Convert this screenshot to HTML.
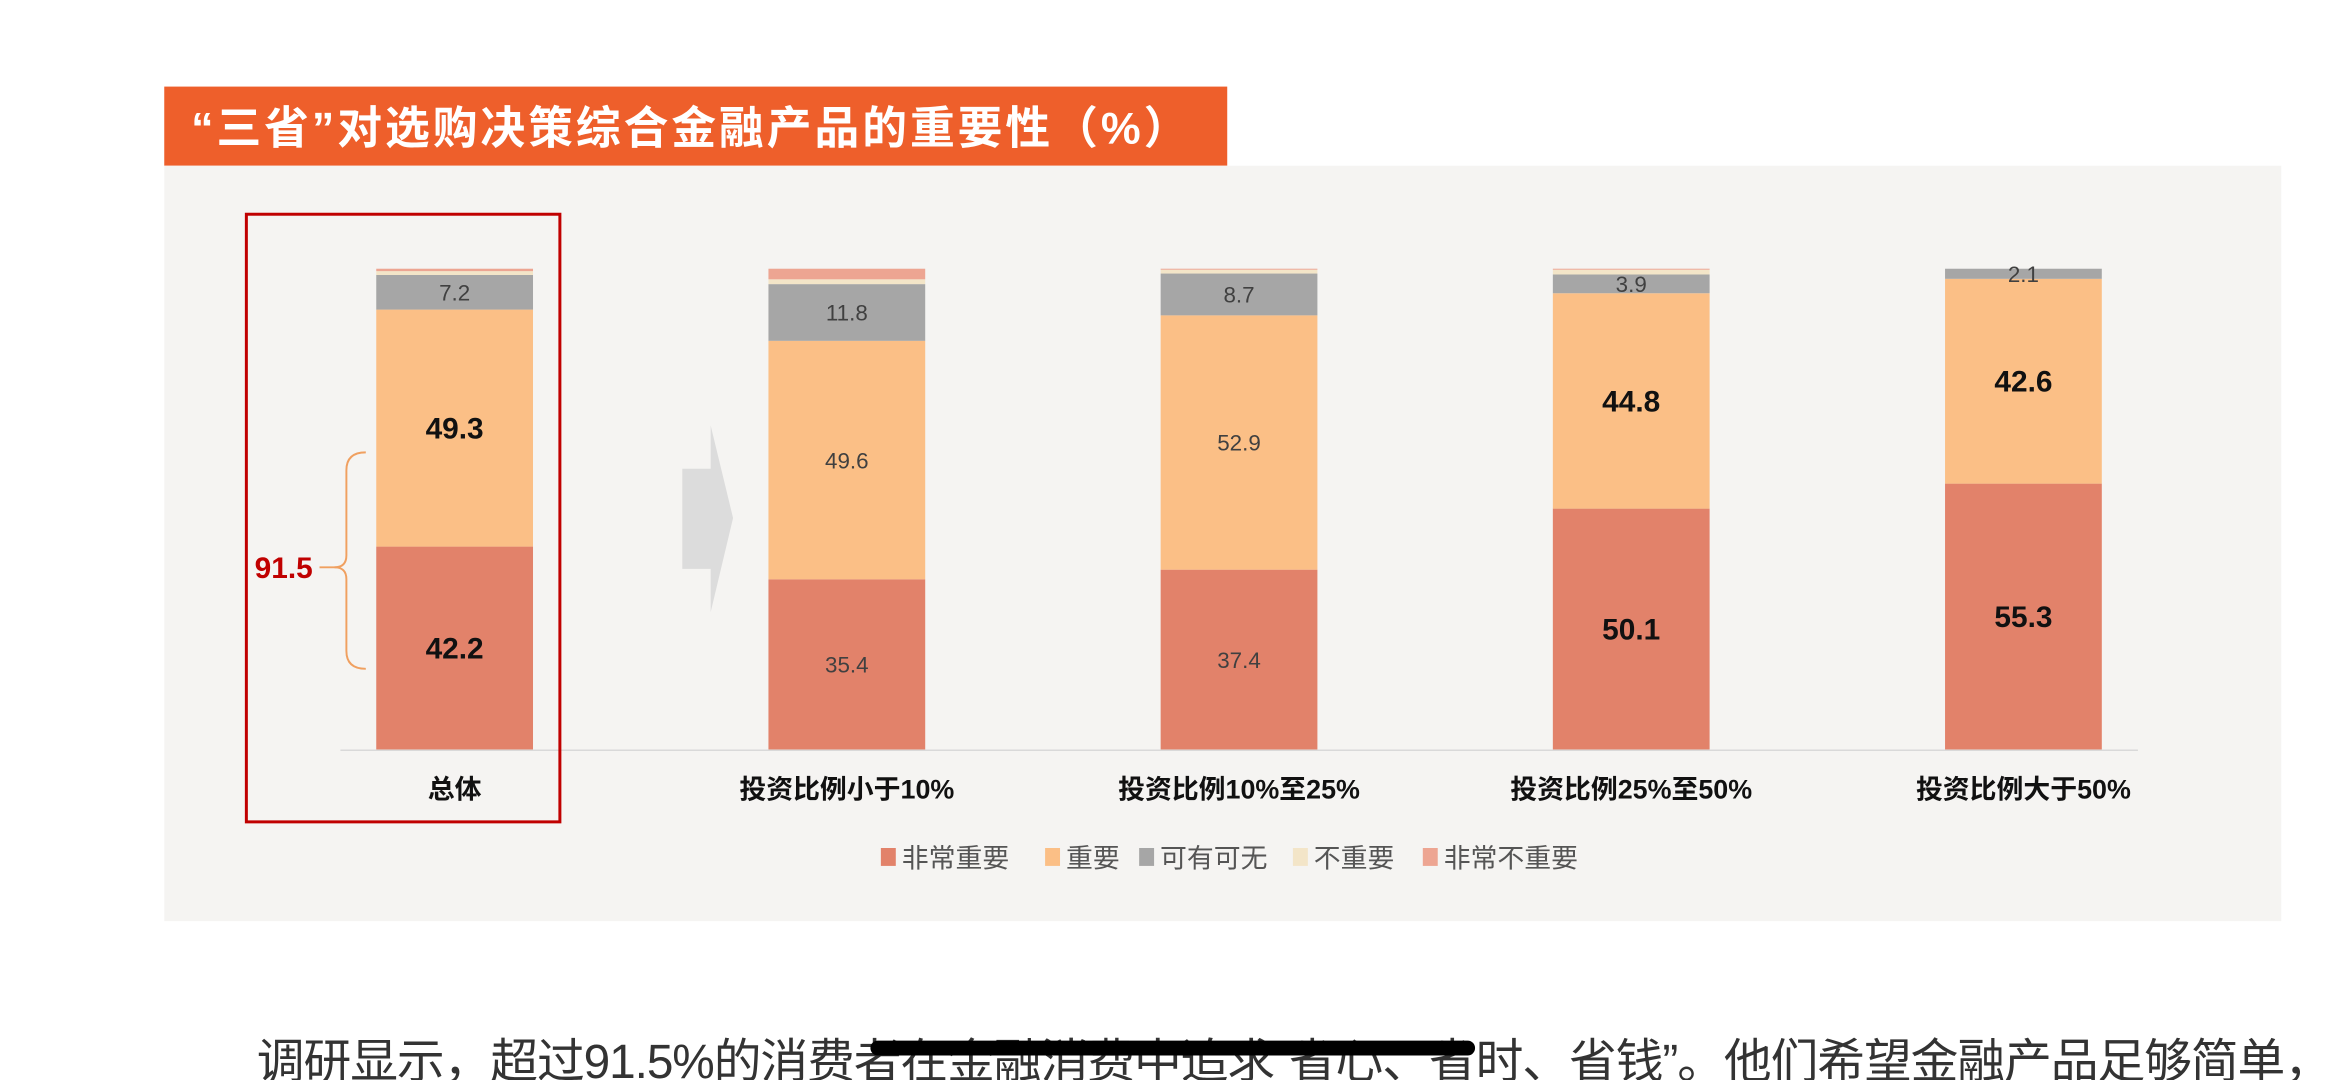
<!DOCTYPE html>
<html><head><meta charset="utf-8"><style>
html,body{margin:0;padding:0;background:#fff;}
svg{display:block;}
text{font-family:"Liberation Sans","Noto Sans CJK SC",sans-serif;}
</style></head><body>
<svg id="chart" width="2341" height="1080" viewBox="0 0 1568 723.4" xmlns="http://www.w3.org/2000/svg">
<rect x="110" y="58" width="712" height="53" fill="#ee5f2b"/>
<text x="128" y="96" font-size="30" fill="#fff" font-weight="bold" textLength="668">“三省”对选购决策综合金融产品的重要性（%）</text>
<rect x="110" y="111" width="1418" height="506" fill="#f5f4f2"/>
<line x1="228" y1="502.5" x2="1432" y2="502.5" stroke="#d9d9d9" stroke-width="1"/>
<rect x="165" y="143.5" width="210" height="407" fill="none" stroke="#c00000" stroke-width="2"/>
<polygon points="457,314 476,314 476,285 491,347 476,410 476,381 457,381" fill="#dcdcdc"/>
<path d="M245,303 Q232,303 232,315 L232,372 Q232,380 224,380 Q232,380 232,388 L232,436 Q232,448 245,448" fill="none" stroke="#f0a060" stroke-width="1.3"/>
<line x1="214" y1="380" x2="226" y2="380" stroke="#f0a060" stroke-width="1.3"/>
<text x="190" y="387" font-size="20" font-weight="bold" fill="#c00000" text-anchor="middle">91.5</text>
<g id="bars"></g>
<g id="legend"></g>
<text x="172" y="722" font-size="32" fill="#333" textLength="1390">调研显示，超过91.5%的消费者在金融消费中追求“省心、省时、省钱”。他们希望金融产品足够简单，</text>
<rect x="583" y="697" width="405" height="10" rx="5" fill="#000"/>
</svg>
<script>
const categories=["总体","投资比例小于10%","投资比例10%至25%","投资比例25%至50%","投资比例大于50%"];
const seriesNames=["非常重要","重要","可有可无","不重要","非常不重要"];
const veryImportant=[42.2,35.4,37.4,50.1,55.3];
const important=[49.3,49.6,52.9,44.8,42.6];
const optional=[7.2,11.8,8.7,3.9,2.1];
const notImportant=[0.8,1.0,0.8,1.0,0];
const veryNotImportant=[0.5,2.2,0.2,0.2,0];
const boldLabels=[true,false,false,true,true];
const series=[veryImportant,important,optional,notImportant,veryNotImportant];
const colors=["#e2826a","#fbbf86","#a6a6a6","#f3e5c8","#eda592"];
const NS="http://www.w3.org/2000/svg";
const baseY=502,pxPer=3.22,barW=105,firstX=252,step=262.7;
function xPos(i){return firstX+i*step;}
function yPos(v){return baseY-v*pxPer;}
const g=document.getElementById('bars');
categories.forEach((c,i)=>{
  let cum=0;
  series.forEach((s,k)=>{
    const v=s[i];
    if(v<=0){return;}
    const r=document.createElementNS(NS,'rect');
    
    
    r.setAttribute('x',xPos(i));r.setAttribute('y',yPos(cum+v));
    r.setAttribute('width',barW);r.setAttribute('height',v*pxPer);
    r.setAttribute('fill',colors[k]);
    g.appendChild(r);
    if(k<3){
      const t=document.createElementNS(NS,'text');
      
      
      const big=boldLabels[i]&&k<2;
      t.setAttribute('x',xPos(i)+barW/2);
      t.setAttribute('y',yPos(cum+v/2)+(big?7:5.5));
      t.setAttribute('text-anchor','middle');
      t.setAttribute('font-size',big?20:15);
      if(big)t.setAttribute('font-weight','bold');
      t.setAttribute('fill',big?'#111':'#404040');
      t.textContent=v.toFixed(1);
      g.appendChild(t);
    }
    cum+=v;
  });
  const l=document.createElementNS(NS,'text');
  
  
  l.setAttribute('x',xPos(i)+barW/2);l.setAttribute('y',535);
  l.setAttribute('text-anchor','middle');l.setAttribute('font-size',18);
  l.setAttribute('font-weight','bold');l.setAttribute('fill','#111');
  l.textContent=c;g.appendChild(l);
});
const lg=document.getElementById('legend');
const legX=[590,700,763,866,953];
seriesNames.forEach((n,k)=>{
  const r=document.createElementNS(NS,'rect');
  
  
  r.setAttribute('x',legX[k]);r.setAttribute('y',568);r.setAttribute('width',10);r.setAttribute('height',12);
  r.setAttribute('fill',colors[k]);lg.appendChild(r);
  const t=document.createElementNS(NS,'text');
  
  
  t.setAttribute('x',legX[k]+14);t.setAttribute('y',581);t.setAttribute('font-size',18);t.setAttribute('fill','#555');
  t.textContent=n;lg.appendChild(t);
});
</script>
</body></html>
